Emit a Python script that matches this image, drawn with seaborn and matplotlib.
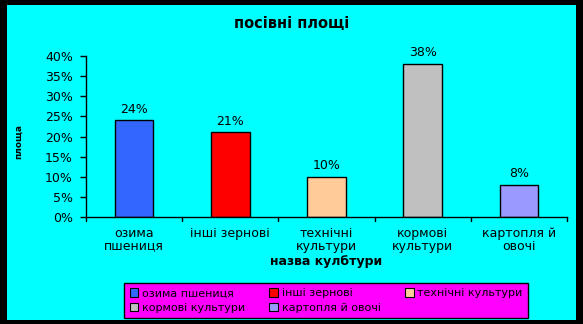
import matplotlib
matplotlib.use("Agg")
import matplotlib.pyplot as plt
import matplotlib.patches as mpatches
import seaborn as sns
import pandas as pd

categories = ["озима\nпшениця", "інші зернові", "технічні\nкультури", "кормові\nкультури", "картопля й\nовочі"]
legend_names = ["озима пшениця", "інші зернові", "технічні культури", "кормові культури", "картопля й овочі"]
shares = [24, 21, 10, 38, 8]
colors = ["#3366FF", "#FF0000", "#FFCC99", "#C0C0C0", "#9999FF"]
yticks = [0, 5, 10, 15, 20, 25, 30, 35, 40]

sns.set_theme(style="white")
plt.rcParams["font.family"] = ["DejaVu Sans"]
plt.rcParams.update({"text.color": "black", "axes.labelcolor": "black",
                     "xtick.color": "black", "ytick.color": "black"})

fig = plt.figure(figsize=(5.83, 3.24), dpi=100, facecolor="black")
W, H = 583, 324
# cyan chart area inside the black frame
fig.patches.append(mpatches.Rectangle((7 / W, 1 - 320 / H), (576 - 7) / W, (320 - 5) / H,
                                      transform=fig.transFigure, facecolor="#00FFFF",
                                      edgecolor="none", zorder=-5))

ax = fig.add_axes([86 / W, 1 - 217 / H, (567 - 86) / W, (217 - 56) / H])
ax.patch.set_alpha(0)

df = pd.DataFrame({"cat": categories, "share": shares})
sns.barplot(data=df, x="cat", y="share", hue="cat", palette=colors, width=0.4,
            edgecolor="black", linewidth=1, legend=False, ax=ax, saturation=1)

for i, v in enumerate(shares):
    ax.text(i, v + 1.2, f"{v}%", ha="center", va="bottom", fontsize=9)

ax.set_ylim(0, 40)
ax.set_xlim(-0.5, 4.5)
ax.set_yticks(yticks)
ax.set_yticklabels([f"{t}%" for t in yticks], fontsize=9)
ax.set_xticks(range(len(categories)))
ax.set_xticklabels(categories, fontsize=9, linespacing=1.0)
ax.tick_params(axis="y", length=4.5, width=1, color="black", left=True, pad=5)
ax.tick_params(axis="x", length=0, pad=7)
# category separators on the x axis
for b in [x - 0.5 for x in range(len(categories) + 1)]:
    ax.plot([b, b], [0, -0.9], color="black", lw=1, clip_on=False)

for s in ["top", "right"]:
    ax.spines[s].set_visible(False)
for s in ["left", "bottom"]:
    ax.spines[s].set_color("black")
    ax.spines[s].set_linewidth(1)

ax.set_xlabel("назва кулбтури", fontsize=9, fontweight="bold", labelpad=2)
ax.set_ylabel("")
fig.text(19 / W, 1 - 142 / H, "площа", rotation=90, fontsize=6.5, fontweight="bold",
         ha="center", va="center")

fig.text(0.5, 1 - 24 / H, "посівні площі", ha="center", va="center",
         fontsize=10.5, fontweight="bold")

handles = [mpatches.Patch(facecolor=c, edgecolor="black", linewidth=0.8, label=n)
           for c, n in zip(colors, legend_names)]
# row-wise order for a 3-column legend
order = [0, 3, 1, 4, 2]
leg = fig.legend(handles=[handles[i] for i in order], ncol=3, loc="center",
                 bbox_to_anchor=(326 / W, 1 - 300.5 / H), fontsize=8,
                 frameon=True, fancybox=False, handlelength=0.8, handleheight=0.8,
                 handletextpad=0.3, columnspacing=2.2, labelspacing=0.4,
                 borderpad=0.5)
leg.get_frame().set_facecolor("#FF00FF")
leg.get_frame().set_edgecolor("black")
leg.get_frame().set_linewidth(1)
leg.get_frame().set_alpha(1)

fig.savefig("out.png", dpi=100, facecolor="black")
